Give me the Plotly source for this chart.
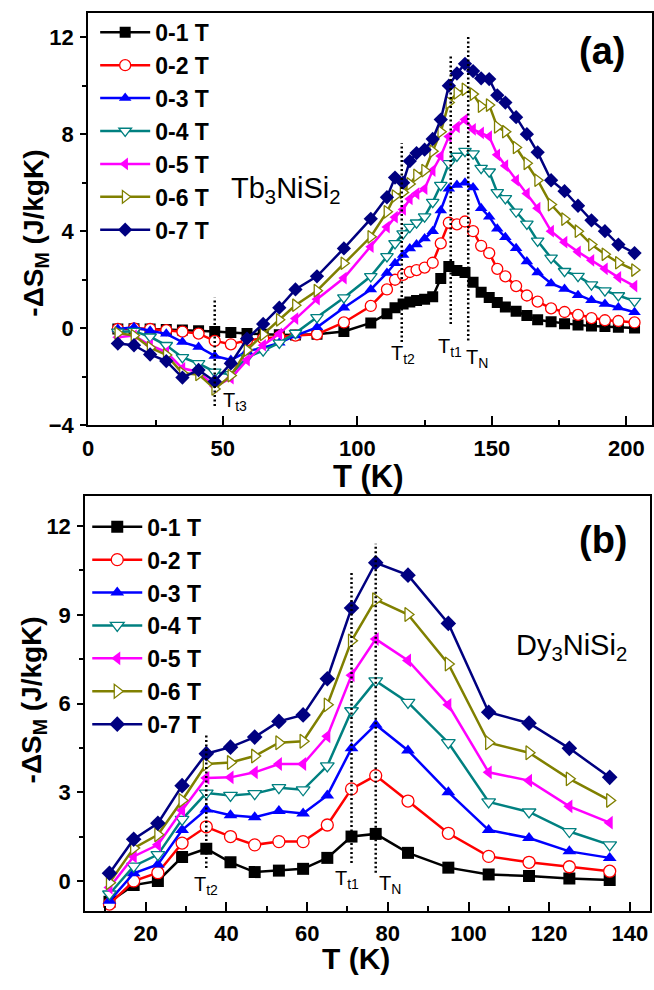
import plotly.graph_objects as go

# ---------------- data: panel (a) Tb3NiSi2 ----------------
Ta = [11, 17, 23, 29, 35, 41, 47, 53, 59, 65, 71, 77, 85, 95, 105, 111, 114, 117, 119.5, 122, 125, 128,
      131, 134, 137, 140, 143, 146, 149, 152, 155, 159, 163, 167, 172, 177, 182, 187, 192, 197, 203]
a_1T = [-0.03, -0.02, -0.03, -0.05, -0.07, -0.1, -0.13, -0.17, -0.22, -0.25, -0.27, -0.28, -0.25, -0.13, 0.22, 0.6,
        0.85, 1.0, 1.08, 1.14, 1.2, 1.3, 2.05, 2.55, 2.38, 2.3, 1.9, 1.48, 1.27, 1.06, 0.88, 0.7, 0.53, 0.35, 0.27,
        0.19, 0.14, 0.09, 0.07, 0.04, 0.01]
a_2T = [-0.03, 0.0, -0.03, -0.08, -0.14, -0.22, -0.52, -0.66, -0.5, -0.42, -0.35, -0.3, -0.25, 0.24, 0.92, 1.6,
        2.0, 2.2, 2.32, 2.4, 2.5, 2.7, 3.5, 4.35, 4.28, 4.4, 4.0, 3.4, 3.1, 2.45, 2.14, 1.74, 1.35, 1.1, 0.82, 0.67,
        0.55, 0.42, 0.33, 0.3, 0.24]
a_3T = [-0.03, 0.04, -0.1, -0.23, -0.57, -0.77, -1.14, -1.31, -0.95, -0.8, -0.6, -0.3, 0.04, 0.85, 1.6, 2.28,
        2.68, 3.02, 3.29, 3.45, 3.7, 4.0, 4.85, 5.75, 5.9, 6.0, 5.8, 4.95, 4.6, 4.1, 3.75, 3.3, 2.75, 2.3, 1.85, 1.62,
        1.36, 1.15, 1.0, 0.86, 0.66]
a_4T = [-0.15, -0.12, -0.35, -0.7, -1.2, -1.45, -1.8, -1.9, -1.2, -0.92, -0.6, -0.2, 0.45, 1.26, 2.14, 2.96,
        3.5, 3.9, 4.17, 4.35, 4.6, 5.2, 5.9, 6.8, 7.1, 7.3, 7.2, 6.6, 6.45, 5.6, 5.35, 4.8, 4.3, 3.6, 2.9, 2.35,
        2.15, 1.8, 1.55, 1.35, 1.12]
a_5T = [-0.37, -0.3, -0.7, -0.98, -1.65, -1.8, -2.4, -2.06, -1.31, -0.7, -0.23, 0.4, 1.2, 2.07, 3.36, 4.17,
        4.58, 4.9, 5.33, 5.55, 5.75, 6.5, 7.1, 7.9, 8.3, 8.6, 8.2, 8.05, 7.9, 7.15, 6.7, 6.1, 5.55, 4.95, 4.0, 3.55,
        3.15, 2.8, 2.45, 2.1, 1.74]
a_6T = [-0.2, -0.3, -0.8, -1.1, -1.85, -1.9, -2.5, -1.95, -0.9, -0.25, 0.35, 0.95, 1.55, 2.68, 3.77, 4.8,
        5.45, 5.6, 5.95, 6.3, 6.5, 7.3, 8.1, 9.3, 9.7, 9.85, 9.65, 9.15, 9.2, 8.3, 8.1, 7.45, 6.8, 6.1, 5.1, 4.5,
        4.0, 3.45, 3.05, 2.7, 2.4]
a_7T = [-0.63, -0.7, -1.08, -1.35, -2.03, -1.72, -2.19, -1.45, -0.43, 0.18, 0.85, 1.6, 2.14, 3.29, 4.51, 5.4,
        6.21, 6.0, 6.89, 7.22, 7.36, 7.8, 8.6, 10.0, 10.5, 10.9, 10.6, 10.3, 10.27, 9.6, 9.3, 8.7, 8.0, 7.25, 6.1,
        5.65, 5.05, 4.45, 4.0, 3.45, 3.1]

# transition markers (a): temperature, lower and upper ends of dotted line
trans_a_T = [47, 116.5, 134.7, 141.2]
trans_a_lo = [-3.2, -0.57, 0.18, -0.5]
trans_a_hi = [1.26, 7.63, 11.29, 12.03]

# ---------------- data: panel (b) Dy3NiSi2 ----------------
Tb = [11, 17, 23, 29, 35, 41, 47, 53, 59, 65, 71, 77, 85, 95, 105, 115, 125, 135]
b_1T = [-0.69, -0.13, 0.01, 0.82, 1.1, 0.64, 0.31, 0.36, 0.42, 0.79, 1.51, 1.6, 0.96, 0.46, 0.23, 0.18, 0.09, 0.04]
b_2T = [-0.77, 0.01, 0.29, 1.29, 1.84, 1.51, 1.23, 1.34, 1.34, 1.9, 3.12, 3.57, 2.71, 1.62, 0.84, 0.64, 0.49, 0.34]
b_3T = [-0.66, 0.27, 0.57, 1.73, 2.42, 2.23, 2.16, 2.37, 2.29, 2.9, 4.49, 5.29, 4.42, 3.01, 1.73, 1.46, 1.01, 0.79]
b_4T = [-0.43, 0.51, 0.9, 2.09, 2.98, 2.9, 2.96, 3.16, 3.09, 3.9, 5.76, 6.77, 6.04, 4.68, 2.68, 2.34, 1.68, 1.23]
b_5T = [-0.21, 0.84, 1.23, 2.4, 3.49, 3.51, 3.68, 3.96, 3.96, 4.9, 6.96, 8.18, 7.46, 5.96, 3.68, 3.4, 2.53, 1.98]
b_6T = [-0.05, 1.12, 1.57, 2.73, 3.96, 4.01, 4.23, 4.68, 4.73, 5.96, 8.12, 9.51, 9.01, 7.34, 4.68, 4.34, 3.46, 2.73]
b_7T = [0.27, 1.42, 1.96, 3.23, 4.31, 4.53, 4.87, 5.4, 5.62, 6.84, 9.23, 10.76, 10.34, 8.71, 5.71, 5.34, 4.49, 3.51]

trans_b_T = [35, 71, 77]
trans_b_lo = [0.45, 0.62, 0.29]
trans_b_hi = [5.0, 10.5, 11.4]

labels = ["0-1 T", "0-2 T", "0-3 T", "0-4 T", "0-5 T", "0-6 T", "0-7 T"]

# ---------------- styles ----------------
colors = ["#000000", "#FF0000", "#0000FF", "#008080", "#FF00FF", "#808000", "#000080"]
symbols = ["square", "circle", "triangle-up", "triangle-down", "triangle-left", "triangle-right", "diamond"]
hollow = [False, True, False, True, False, True, False]

FONT = "Liberation Sans, Arial, sans-serif"

fig = go.Figure()


def add_series(T, ys, xa, ya, legend, msize):
    for i, y in enumerate(ys):
        c = colors[i]
        fig.add_trace(go.Scatter(
            x=T, y=y, mode="lines+markers", name=labels[i],
            xaxis=xa, yaxis=ya, legend=legend, legendgroup=legend + str(i),
            line=dict(color=c, width=2.5),
            marker=dict(symbol=symbols[i], size=msize,
                        color="white" if hollow[i] else c,
                        line=dict(color=c, width=1.3 if hollow[i] else 0)),
        ))


add_series(Ta, [a_1T, a_2T, a_3T, a_4T, a_5T, a_6T, a_7T], "x", "y", "legend", 11)
add_series(Tb, [b_1T, b_2T, b_3T, b_4T, b_5T, b_6T, b_7T], "x2", "y2", "legend2", 12)


def add_dotted(Ts, lo, hi, xa, ya):
    for t, l, h in zip(Ts, lo, hi):
        fig.add_trace(go.Scatter(x=[t, t], y=[l, h], mode="lines", xaxis=xa, yaxis=ya,
                                 showlegend=False, hoverinfo="skip",
                                 line=dict(color="black", width=2.5, dash="2px,2.5px")))


add_dotted(trans_a_T, trans_a_lo, trans_a_hi, "x", "y")
add_dotted(trans_b_T, trans_b_lo, trans_b_hi, "x2", "y2")

W, H = 654, 990


def px_x(a, b):
    return [a / W, b / W]


def px_y(top, bottom):
    return [1 - bottom / H, 1 - top / H]


def pxx(v):
    return v / W


def pxy(v):
    return 1 - v / H


axis_common = dict(showline=True, linecolor="black", linewidth=2, mirror=True, showgrid=False,
                   zeroline=False, tickcolor="black", tickwidth=2,
                   tickfont=dict(family=FONT, size=22, color="black", weight="bold"))
minor_in = dict(ticks="inside", ticklen=5, tickwidth=2, tickcolor="black")
minor_out = dict(ticks="outside", ticklen=4, tickwidth=2, tickcolor="black")

fig.update_layout(
    width=W, height=H, margin=dict(l=0, r=0, t=0, b=0),
    paper_bgcolor="white", plot_bgcolor="white",
    font=dict(family=FONT, color="black"),
    xaxis=dict(domain=px_x(83, 652), range=[0, 209.5], anchor="y", tickvals=[0, 50, 100, 150, 200],
               ticks="inside", ticklen=9, ticklabelstandoff=2,
               minor=dict(tickvals=[25, 75, 125, 175], **minor_in), **axis_common),
    yaxis=dict(domain=px_y(13, 431), range=[-4, 13], anchor="x", tickvals=[-4, 0, 4, 8, 12],
               ticks="outside", ticklen=6, ticklabelstandoff=2,
               minor=dict(tickvals=[-2, 2, 6, 10], **minor_out), **axis_common),
    xaxis2=dict(domain=px_x(80, 650), range=[5, 145], anchor="y2", tickvals=[20, 40, 60, 80, 100, 120, 140],
                ticks="inside", ticklen=9, ticklabelstandoff=2,
                minor=dict(tickvals=[10, 30, 50, 70, 90, 110, 130], **minor_in), **axis_common),
    yaxis2=dict(domain=px_y(503, 923), range=[-1, 13], anchor="x2", tickvals=[0, 3, 6, 9, 12],
                ticks="outside", ticklen=6, ticklabelstandoff=2,
                minor=dict(tickvals=[1.5, 4.5, 7.5, 10.5], **minor_out), **axis_common),
    legend=dict(x=pxx(90), y=pxy(11), xanchor="left", yanchor="top", bgcolor="rgba(0,0,0,0)",
                font=dict(family=FONT, size=23, color="black", weight="bold"),
                tracegroupgap=2, itemwidth=50, traceorder="normal"),
    legend2=dict(x=pxx(82), y=pxy(512), xanchor="left", yanchor="top", bgcolor="rgba(0,0,0,0)",
                 font=dict(family=FONT, size=23, color="black", weight="bold"),
                 tracegroupgap=1.5, itemwidth=50, traceorder="normal"),
)

ann = []
bold = lambda s: dict(family=FONT, size=s, color="black", weight="bold")
center = dict(xanchor="center", yanchor="middle", showarrow=False)
# axis titles
ann.append(dict(text="T (K)", x=pxx(366), y=pxy(483), xref="paper", yref="paper", font=bold(31), **center))
ann.append(dict(text="T (K)", x=pxx(353), y=pxy(971), xref="paper", yref="paper", font=bold(30), **center))
ann.append(dict(text="-ΔS<sub>M</sub> (J/kgK)", x=pxx(30), y=pxy(236), xref="paper", yref="paper",
                textangle=-90, font=bold(28), **center))
ann.append(dict(text="-ΔS<sub>M</sub> (J/kgK)", x=pxx(28), y=pxy(709), xref="paper", yref="paper",
                textangle=-90, font=bold(28), **center))
# panel labels
ann.append(dict(text="(a)", x=pxx(602), y=pxy(52), xref="paper", yref="paper", font=bold(38), **center))
ann.append(dict(text="(b)", x=pxx(603), y=pxy(547), xref="paper", yref="paper", font=bold(38), **center))
# compound names
ann.append(dict(text="Tb<sub>3</sub>NiSi<sub>2</sub>", x=73.5, y=5.7, xref="x", yref="y",
                font=dict(family=FONT, size=29, color="black"), **center))
ann.append(dict(text="Dy<sub>3</sub>NiSi<sub>2</sub>", x=125.5, y=7.9, xref="x2", yref="y2",
                font=dict(family=FONT, size=29, color="black"), **center))
# transition labels
tl = dict(font=dict(family=FONT, size=20, color="black"), **center)
ann.append(dict(text="T<sub>t3</sub>", x=54.5, y=-3.0, xref="x", yref="y", **tl))
ann.append(dict(text="T<sub>t2</sub>", x=117, y=-1.1, xref="x", yref="y", **tl))
ann.append(dict(text="T<sub>t1</sub>", x=134.5, y=-0.8, xref="x", yref="y", **tl))
ann.append(dict(text="T<sub>N</sub>", x=144.5, y=-1.25, xref="x", yref="y", **tl))
ann.append(dict(text="T<sub>t2</sub>", x=35, y=-0.15, xref="x2", yref="y2", **tl))
ann.append(dict(text="T<sub>t1</sub>", x=70, y=0.07, xref="x2", yref="y2", **tl))
ann.append(dict(text="T<sub>N</sub>", x=80.5, y=-0.1, xref="x2", yref="y2", **tl))
fig.update_layout(annotations=ann)

fig.write_html("out.html")
